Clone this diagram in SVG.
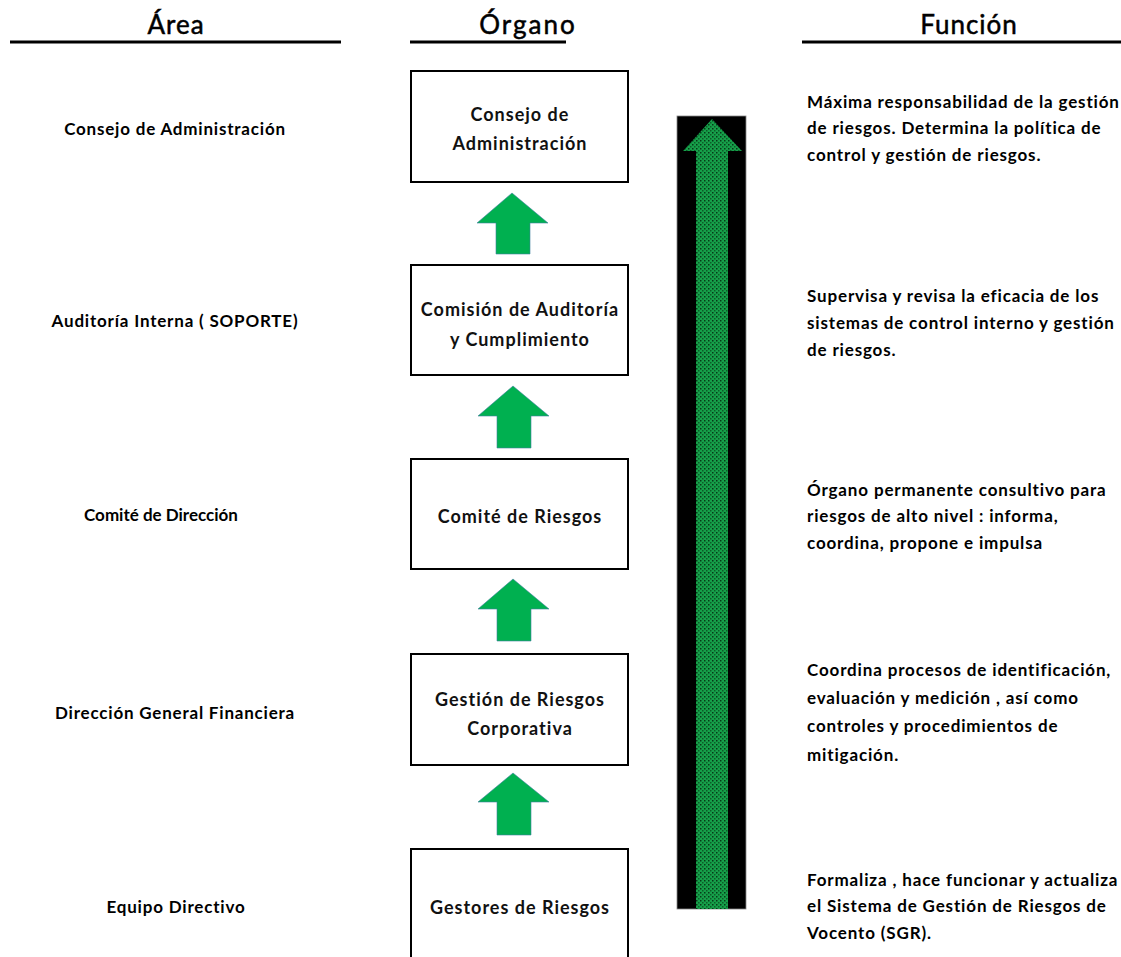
<svg xmlns="http://www.w3.org/2000/svg" width="1121" height="957" viewBox="0 0 1121 957">
<style>
.hdr{font-family:Lato,"Liberation Sans",sans-serif;font-size:26px;fill:#000;stroke:#000;stroke-width:0.5;letter-spacing:1px;text-anchor:middle}
.area{font-family:Lato,"Liberation Sans",sans-serif;font-size:17px;font-weight:bold;fill:#000;letter-spacing:0.8px;text-anchor:middle}
.box{fill:#fff;stroke:#000;stroke-width:2}
.bt{font-family:Lato,"Liberation Sans",sans-serif;font-size:18px;font-weight:bold;fill:#111;letter-spacing:1px;text-anchor:middle}
.fn{font-family:Lato,"Liberation Sans",sans-serif;font-size:17px;font-weight:bold;fill:#000;letter-spacing:0.85px}
.sa{fill:#00b050;stroke:#3f7f9f;stroke-width:0.6}
.hl{stroke:#000;stroke-width:3}
</style>
<defs>
<pattern id="dots" width="4" height="4" patternUnits="userSpaceOnUse">
<rect width="4" height="4" fill="#16a04a"/>
<rect x="0" y="0" width="1.5" height="1.5" fill="#063a18"/>
<rect x="2" y="2" width="1.5" height="1.5" fill="#0b5e28"/>
</pattern>
</defs>
<rect width="1121" height="957" fill="#fff"/>
<g id="headers">
<text class="hdr" x="176" y="34">Área</text>
<line class="hl" x1="10" y1="42" x2="341" y2="42"/>
<text class="hdr" x="528" y="34" style="letter-spacing:2px">Órgano</text>
<line class="hl" x1="410" y1="42" x2="566" y2="42"/>
<text class="hdr" x="969" y="34">Función</text>
<line class="hl" x1="802" y1="42" x2="1121" y2="42"/>
</g>
<g id="areas">
<text class="area" x="175" y="135">Consejo de Administración</text>
<text class="area" x="175" y="327">Auditoría Interna ( SOPORTE)</text>
<text class="area" x="161" y="521" style="letter-spacing:0px">Comité de Dirección</text>
<text class="area" x="175" y="719">Dirección General Financiera</text>
<text class="area" x="176" y="913">Equipo Directivo</text>
</g>
<g id="node1"><rect class="box" x="411" y="71" width="217" height="111"/>
<text class="bt" x="520" y="121">Consejo de</text><text class="bt" x="520" y="150">Administración</text></g>
<g id="node2"><rect class="box" x="411" y="265" width="217" height="110"/>
<text class="bt" x="520" y="316">Comisión de Auditoría</text><text class="bt" x="520" y="346">y Cumplimiento</text></g>
<g id="node3"><rect class="box" x="411" y="459" width="217" height="110"/>
<text class="bt" x="520" y="523">Comité de Riesgos</text></g>
<g id="node4"><rect class="box" x="411" y="654" width="217" height="111"/>
<text class="bt" x="520" y="706">Gestión de Riesgos</text><text class="bt" x="520" y="735">Corporativa</text></g>
<g id="node5"><rect class="box" x="411" y="849" width="217" height="120"/>
<text class="bt" x="520" y="914">Gestores de Riesgos</text></g>
<g id="connectors">
<polygon class="sa" points="512,193 548,223 530,223 530,254 496,254 496,223 477,223"/>
<polygon class="sa" points="513,386 549,416 531,416 531,448 497,448 497,416 478,416"/>
<polygon class="sa" points="513,579 549,609 531,609 531,641 497,641 497,609 478,609"/>
<polygon class="sa" points="513,773 549,802 531,802 531,835 497,835 497,802 478,802"/>
<rect x="677" y="116" width="69" height="793" fill="#000" stroke="#888" stroke-width="0.8"/>
<polygon points="712,119 742,151 728,151 728,909 696,909 696,151 683,151" fill="url(#dots)"/>
</g>
<g id="functions">
<text class="fn" x="807" y="108">Máxima responsabilidad de la gestión</text>
<text class="fn" x="807" y="134">de riesgos. Determina la política de</text>
<text class="fn" x="807" y="161">control y gestión de riesgos.</text>
<text class="fn" x="807" y="302">Supervisa y revisa la eficacia de los</text>
<text class="fn" x="807" y="329">sistemas de control interno y gestión</text>
<text class="fn" x="807" y="356">de riesgos.</text>
<text class="fn" x="807" y="496">Órgano permanente consultivo para</text>
<text class="fn" x="807" y="522">riesgos de alto nivel : informa,</text>
<text class="fn" x="807" y="549">coordina, propone e impulsa</text>
<text class="fn" x="807" y="676">Coordina procesos de identificación,</text>
<text class="fn" x="807" y="704">evaluación y medición , así como</text>
<text class="fn" x="807" y="732">controles y procedimientos de</text>
<text class="fn" x="807" y="761">mitigación.</text>
<text class="fn" x="807" y="886">Formaliza , hace funcionar y actualiza</text>
<text class="fn" x="807" y="912">el Sistema de Gestión de Riesgos de</text>
<text class="fn" x="807" y="939">Vocento (SGR).</text>
</g>
</svg>
